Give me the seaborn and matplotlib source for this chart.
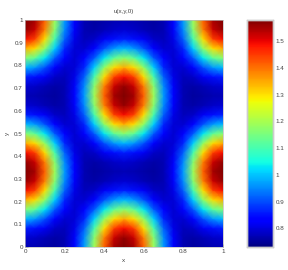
import matplotlib
matplotlib.use("Agg")
import matplotlib.pyplot as plt
import pandas as pd
import seaborn as sns

# grid nodes: x every 0.05, y every 1/24
x_vals = [0.0, 0.05, 0.1, 0.15, 0.2, 0.25, 0.3, 0.35, 0.4, 0.45, 0.5,
          0.55, 0.6, 0.65, 0.7, 0.75, 0.8, 0.85, 0.9, 0.95, 1.0]
y_vals = [0.0, 0.042, 0.083, 0.125, 0.167, 0.208, 0.25, 0.292, 0.333,
          0.375, 0.417, 0.458, 0.5, 0.542, 0.583, 0.625, 0.667, 0.708,
          0.75, 0.792, 0.833, 0.875, 0.917, 0.958, 1.0]

# u(x, y) rows, bottom (y=0) to top (y=1)
u_rows = [
    [0.771, 0.768, 0.760, 0.755, 0.767, 0.825, 0.969, 1.193, 1.417, 1.551, 1.580, 1.551, 1.417, 1.193, 0.969, 0.825, 0.767, 0.755, 0.760, 0.768, 0.771],
    [0.792, 0.786, 0.773, 0.762, 0.768, 0.820, 0.955, 1.169, 1.388, 1.526, 1.565, 1.526, 1.388, 1.169, 0.955, 0.820, 0.768, 0.762, 0.773, 0.786, 0.792],
    [0.862, 0.849, 0.817, 0.785, 0.774, 0.808, 0.918, 1.102, 1.304, 1.444, 1.491, 1.444, 1.304, 1.102, 0.918, 0.808, 0.774, 0.785, 0.817, 0.849, 0.862],
    [0.990, 0.965, 0.903, 0.835, 0.791, 0.796, 0.869, 1.009, 1.175, 1.302, 1.348, 1.302, 1.175, 1.009, 0.869, 0.796, 0.791, 0.835, 0.903, 0.965, 0.990],
    [1.165, 1.128, 1.030, 0.912, 0.823, 0.791, 0.823, 0.912, 1.030, 1.128, 1.165, 1.128, 1.030, 0.912, 0.823, 0.791, 0.823, 0.912, 1.030, 1.128, 1.165],
    [1.348, 1.302, 1.175, 1.009, 0.869, 0.796, 0.791, 0.835, 0.903, 0.965, 0.990, 0.965, 0.903, 0.835, 0.791, 0.796, 0.869, 1.009, 1.175, 1.302, 1.348],
    [1.491, 1.444, 1.304, 1.102, 0.918, 0.808, 0.774, 0.785, 0.817, 0.849, 0.862, 0.849, 0.817, 0.785, 0.774, 0.808, 0.918, 1.102, 1.304, 1.444, 1.491],
    [1.565, 1.526, 1.388, 1.169, 0.955, 0.820, 0.768, 0.762, 0.773, 0.786, 0.792, 0.786, 0.773, 0.762, 0.768, 0.820, 0.955, 1.169, 1.388, 1.526, 1.565],
    [1.580, 1.551, 1.417, 1.193, 0.969, 0.825, 0.767, 0.755, 0.760, 0.768, 0.771, 0.768, 0.760, 0.755, 0.767, 0.825, 0.969, 1.193, 1.417, 1.551, 1.580],
    [1.565, 1.526, 1.388, 1.169, 0.955, 0.820, 0.768, 0.762, 0.773, 0.786, 0.792, 0.786, 0.773, 0.762, 0.768, 0.820, 0.955, 1.169, 1.388, 1.526, 1.565],
    [1.491, 1.444, 1.304, 1.102, 0.918, 0.808, 0.774, 0.785, 0.817, 0.849, 0.862, 0.849, 0.817, 0.785, 0.774, 0.808, 0.918, 1.102, 1.304, 1.444, 1.491],
    [1.348, 1.302, 1.175, 1.009, 0.869, 0.796, 0.791, 0.835, 0.903, 0.965, 0.990, 0.965, 0.903, 0.835, 0.791, 0.796, 0.869, 1.009, 1.175, 1.302, 1.348],
    [1.165, 1.128, 1.030, 0.912, 0.823, 0.791, 0.823, 0.912, 1.030, 1.128, 1.165, 1.128, 1.030, 0.912, 0.823, 0.791, 0.823, 0.912, 1.030, 1.128, 1.165],
    [0.990, 0.965, 0.903, 0.835, 0.791, 0.796, 0.869, 1.009, 1.175, 1.302, 1.348, 1.302, 1.175, 1.009, 0.869, 0.796, 0.791, 0.835, 0.903, 0.965, 0.990],
    [0.862, 0.849, 0.817, 0.785, 0.774, 0.808, 0.918, 1.102, 1.304, 1.444, 1.491, 1.444, 1.304, 1.102, 0.918, 0.808, 0.774, 0.785, 0.817, 0.849, 0.862],
    [0.792, 0.786, 0.773, 0.762, 0.768, 0.820, 0.955, 1.169, 1.388, 1.526, 1.565, 1.526, 1.388, 1.169, 0.955, 0.820, 0.768, 0.762, 0.773, 0.786, 0.792],
    [0.771, 0.768, 0.760, 0.755, 0.767, 0.825, 0.969, 1.193, 1.417, 1.551, 1.580, 1.551, 1.417, 1.193, 0.969, 0.825, 0.767, 0.755, 0.760, 0.768, 0.771],
    [0.792, 0.786, 0.773, 0.762, 0.768, 0.820, 0.955, 1.169, 1.388, 1.526, 1.565, 1.526, 1.388, 1.169, 0.955, 0.820, 0.768, 0.762, 0.773, 0.786, 0.792],
    [0.862, 0.849, 0.817, 0.785, 0.774, 0.808, 0.918, 1.102, 1.304, 1.444, 1.491, 1.444, 1.304, 1.102, 0.918, 0.808, 0.774, 0.785, 0.817, 0.849, 0.862],
    [0.990, 0.965, 0.903, 0.835, 0.791, 0.796, 0.869, 1.009, 1.175, 1.302, 1.348, 1.302, 1.175, 1.009, 0.869, 0.796, 0.791, 0.835, 0.903, 0.965, 0.990],
    [1.165, 1.128, 1.030, 0.912, 0.823, 0.791, 0.823, 0.912, 1.030, 1.128, 1.165, 1.128, 1.030, 0.912, 0.823, 0.791, 0.823, 0.912, 1.030, 1.128, 1.165],
    [1.348, 1.302, 1.175, 1.009, 0.869, 0.796, 0.791, 0.835, 0.903, 0.965, 0.990, 0.965, 0.903, 0.835, 0.791, 0.796, 0.869, 1.009, 1.175, 1.302, 1.348],
    [1.491, 1.444, 1.304, 1.102, 0.918, 0.808, 0.774, 0.785, 0.817, 0.849, 0.862, 0.849, 0.817, 0.785, 0.774, 0.808, 0.918, 1.102, 1.304, 1.444, 1.491],
    [1.565, 1.526, 1.388, 1.169, 0.955, 0.820, 0.768, 0.762, 0.773, 0.786, 0.792, 0.786, 0.773, 0.762, 0.768, 0.820, 0.955, 1.169, 1.388, 1.526, 1.565],
    [1.580, 1.551, 1.417, 1.193, 0.969, 0.825, 0.767, 0.755, 0.760, 0.768, 0.771, 0.768, 0.760, 0.755, 0.767, 0.825, 0.969, 1.193, 1.417, 1.551, 1.580],
]

x_ticks = [0, 0.2, 0.4, 0.6, 0.8, 1]
y_ticks = [0, 0.1, 0.2, 0.3, 0.4, 0.5, 0.6, 0.7, 0.8, 0.9, 1]
cbar_ticks = [0.8, 0.9, 1.0, 1.1, 1.2, 1.3, 1.4, 1.5]
c_min, c_max = 0.73, 1.58

sns.set_style("white")
plt.rcParams["font.family"] = ["Liberation Sans", "DejaVu Sans"]

fig = plt.figure(figsize=(2.88, 2.70), dpi=100)
ax = fig.add_axes([0.087, 0.085, 0.687, 0.841])
cax = fig.add_axes([0.858, 0.085, 0.090, 0.841])

df = pd.DataFrame(u_rows, index=y_vals, columns=x_vals)
sns.heatmap(df, ax=ax, cbar_ax=cax, cmap="jet", vmin=c_min, vmax=c_max,
            shading="gouraud", xticklabels=False, yticklabels=False)

# node index space -> data space
nx, ny = len(x_vals) - 1, len(y_vals) - 1
ax.set_xlim(0, nx)
ax.set_ylim(0, ny)
ax.set_xticks([t * nx for t in x_ticks])
ax.set_xticklabels([f"{t:g}" for t in x_ticks])
ax.set_yticks([t * ny for t in y_ticks])
ax.set_yticklabels([f"{t:g}" for t in y_ticks])

txt = "#444444"
ax.tick_params(direction="in", length=2, width=0.4, labelsize=4.5,
               pad=1.5, colors=txt, bottom=True, left=True)
for s in ax.spines.values():
    s.set_visible(True)
    s.set_color("#bbbbbb")
    s.set_linewidth(0.5)

ax.set_title("u(x,y,0)", fontsize=4.5, color=txt, pad=5)
ax.set_xlabel("x", fontsize=4.5, color=txt, labelpad=3)
ax.set_ylabel("y", fontsize=4.5, color=txt, labelpad=3)

cax.set_yticks(cbar_ticks)
cax.set_yticklabels([f"{t:g}" for t in cbar_ticks])
cax.tick_params(direction="in", length=2, width=0.4, labelsize=4.5,
                pad=2, colors=txt)
for s in cax.spines.values():
    s.set_visible(True)
    s.set_color("#cccccc")
    s.set_linewidth(1.0)

fig.savefig("out.png", dpi=100)
